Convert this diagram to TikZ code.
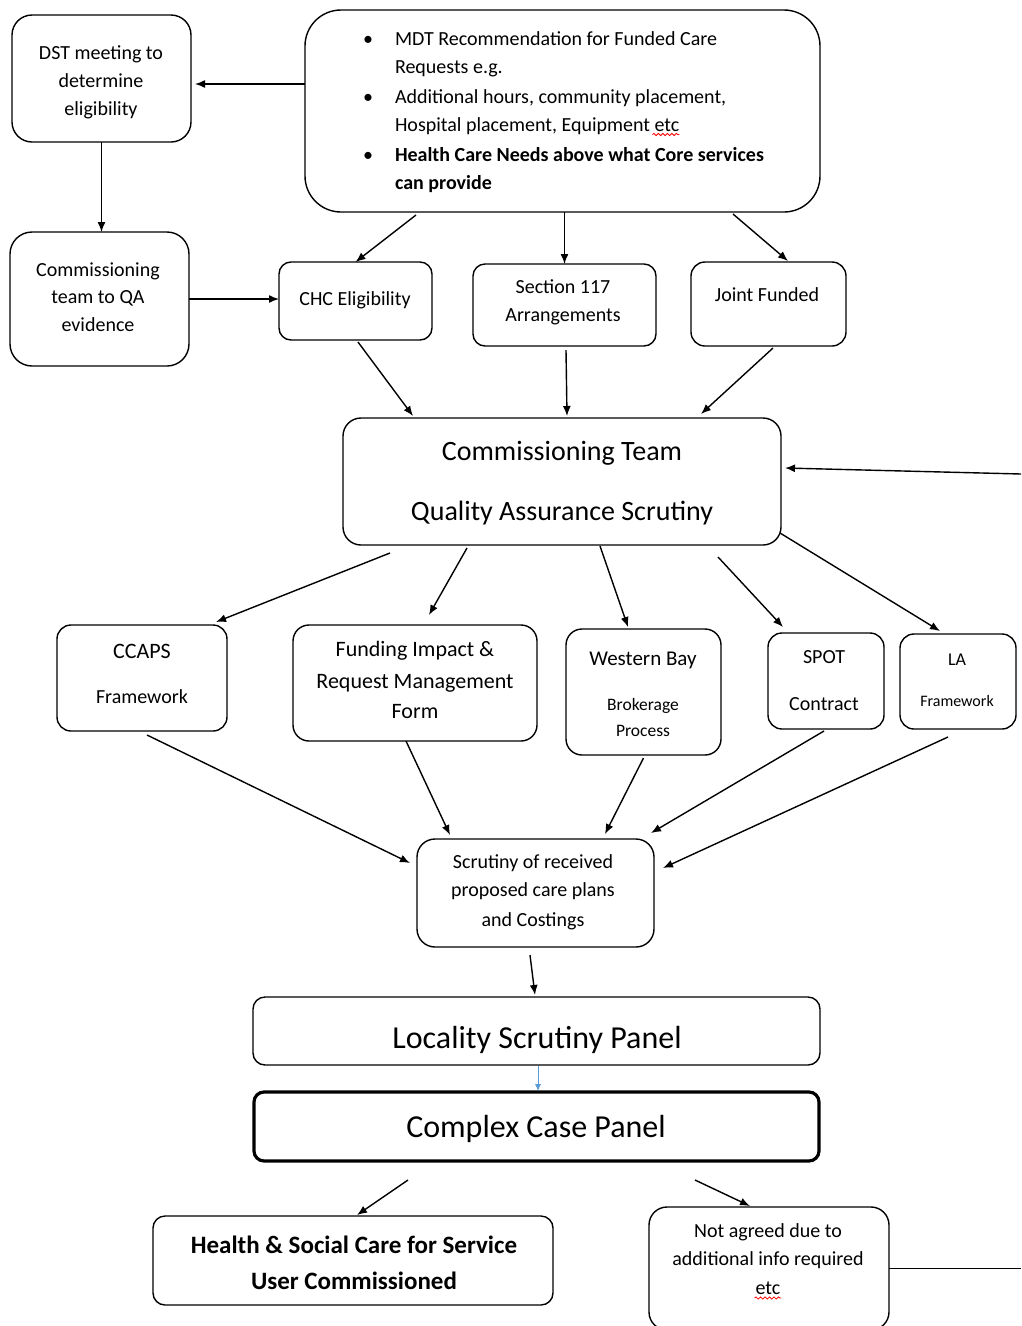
\documentclass[tikz,border=0pt]{standalone}
\usepackage{fontspec}
\setmainfont{Carlito}
\usetikzlibrary{arrows.meta,calc,decorations.pathmorphing}
\newcommand\fsz[1]{\fontsize{#1}{#1}\selectfont}
\definecolor{wordblue}{RGB}{91,155,213}
\tikzset{
  box/.style={draw=black, line width=1.4pt, inner sep=0pt, outer sep=0pt, fill=white},
  lbl/.style={inner sep=0pt, outer sep=0pt, anchor=base, text=black, font=\fsz{20}},
  lblw/.style={lbl, anchor=base west},
  arr/.style={draw=black, line width=1.4pt, -{Latex[length=10pt,width=8pt]}},
  plain/.style={draw=black, line width=1.4pt},
  squig/.style={draw=red, line width=0.8pt, decorate, decoration={snake, amplitude=1.1pt, segment length=4.5pt}}
}
\begin{document}
\begin{tikzpicture}[x=1pt, y=-1pt]
\useasboundingbox[fill=white] (0,0) rectangle (1021,1326);

% ---------- boxes ----------
\node[box, rounded corners=20pt, minimum width=179pt, minimum height=127pt] (dst) at (101.5,78.5) {};
\node[box, rounded corners=36pt, minimum width=515pt, minimum height=202pt] (mdt) at (562.5,111) {};
\node[box, rounded corners=22pt, minimum width=179pt, minimum height=134pt] (cqa) at (99.5,299) {};
\node[box, rounded corners=12pt, minimum width=153pt, minimum height=78pt] (chc) at (355.5,301) {};
\node[box, rounded corners=12pt, minimum width=183pt, minimum height=82pt] (s117) at (564.5,305) {};
\node[box, rounded corners=14pt, minimum width=155pt, minimum height=84pt] (joint) at (768.5,304) {};
\node[box, rounded corners=18pt, minimum width=438pt, minimum height=127pt] (ct) at (562,481.5) {};
\node[box, rounded corners=14pt, minimum width=170pt, minimum height=106pt] (ccaps) at (142,678) {};
\node[box, rounded corners=16pt, minimum width=244pt, minimum height=116pt] (fund) at (415,683) {};
\node[box, rounded corners=16pt, minimum width=155pt, minimum height=126pt] (west) at (643.5,692) {};
\node[box, rounded corners=14pt, minimum width=116pt, minimum height=96pt] (spot) at (826,681) {};
\node[box, rounded corners=14pt, minimum width=116pt, minimum height=95pt] (la) at (958,681.5) {};
\node[box, rounded corners=18pt, minimum width=237pt, minimum height=108pt] (scr) at (535.5,893) {};
\node[box, rounded corners=12pt, minimum width=567pt, minimum height=68pt] (loc) at (536.5,1031) {};
\node[box, rounded corners=10pt, line width=3.2pt, minimum width=565pt, minimum height=69pt] (cx) at (536.5,1126.5) {};
\node[box, rounded corners=12pt, minimum width=400pt, minimum height=89pt] (hsc) at (353,1260.5) {};
\node[box, rounded corners=18pt, minimum width=240pt, minimum height=123pt] (na) at (769,1268.5) {};

% ---------- texts ----------
\node[lbl] (dst1) at (101,59.5) {DST meeting to};
\node[lbl] (dst2) at (101,87.5) {determine};
\node[lbl] (dst3) at (101,115.5) {eligibility};

\node[lbl] (b1) at (368,45.5) {\textbullet};
\node[lblw] (mdt1) at (395,45.5) {MDT Recommendation for Funded Care};
\node[lblw] (mdt2) at (395,73.5) {Requests e.g.};
\node[lbl] (b2) at (368,103.5) {\textbullet};
\node[lblw] (mdt3) at (395,103.5) {Additional hours, community placement,};
\node[lblw] (mdt4) at (395,131.5) {Hospital placement, Equipment etc};
\node[lbl] (b3) at (368,161.5) {\textbullet};
\node[lblw, font=\fsz{20}\bfseries] (mdt5) at (395,161.5) {Health Care Needs above what Core services};
\node[lblw, font=\fsz{20}\bfseries] (mdt6) at (395,189.5) {can provide};
\draw[squig] ($(mdt4.base east)+(-27,3)$) -- ($(mdt4.base east)+(0,3)$);

\node[lbl] (cqa1) at (98,276.5) {Commissioning};
\node[lbl] (cqa2) at (98,303.5) {team to QA};
\node[lbl] (cqa3) at (98,331.5) {evidence};

\node[lbl] (chc1) at (355,305.5) {CHC Eligibility};
\node[lbl] (s1) at (563,293.5) {Section 117};
\node[lbl] (s2) at (563,321.5) {Arrangements};
\node[lbl] (j1) at (767,301.5) {Joint Funded};

\node[lbl, font=\fsz{28}] (ct1) at (562,460) {Commissioning Team};
\node[lbl, font=\fsz{28}] (ct2) at (562,520) {Quality Assurance Scrutiny};

\node[lbl, font=\fsz{22}] (cc1) at (142,658) {CCAPS};
\node[lbl] (cc2) at (142,703.5) {Framework};

\node[lbl, font=\fsz{22}] (f1) at (415,656) {Funding Impact \&};
\node[lbl, font=\fsz{22}] (f2) at (415,688) {Request Management};
\node[lbl, font=\fsz{22}] (f3) at (415,718) {Form};

\node[lbl, font=\fsz{21}] (w1) at (643,665) {Western Bay};
\node[lbl, font=\fsz{17.5}] (w2) at (643,710.5) {Brokerage};
\node[lbl, font=\fsz{17.5}] (w3) at (643,736.5) {Process};

\node[lbl] (sp1) at (824,663.5) {SPOT};
\node[lbl] (sp2) at (824,710.5) {Contract};

\node[lbl, font=\fsz{18}] (la1) at (957,665) {LA};
\node[lbl, font=\fsz{16}] (la2) at (957,706) {Framework};

\node[lbl] (sc1) at (533,868.5) {Scrutiny of received};
\node[lbl] (sc2) at (533,896.5) {proposed care plans};
\node[lbl] (sc3) at (533,926.5) {and Costings};

\node[lbl, font=\fsz{32}] (loc1) at (537,1048) {Locality Scrutiny Panel};
\node[lbl, font=\fsz{32}] (cx1) at (536,1137) {Complex Case Panel};

\node[lbl, font=\fsz{25}\bfseries] (h1) at (354,1253) {Health \& Social Care for Service};
\node[lbl, font=\fsz{25}\bfseries] (h2) at (354,1289) {User Commissioned};

\node[lbl] (n1) at (768,1237) {Not agreed due to};
\node[lbl] (n2) at (768,1265) {additional info required};
\node[lbl] (n3) at (768,1294) {etc};
\draw[squig] ($(n3.base west)+(-1,4)$) -- ($(n3.base east)+(1,4)$);

% ---------- free ends ----------
\coordinate (fbin) at (1021,474);
\coordinate (fbout) at (1021,1268.5);

% ---------- connectors ----------
\draw[arr] ($(mdt.west)+(0,-27)$) -- ($(dst.east)+(4,5.5)$);
\draw[arr] (dst.south) -- (dst.south |- cqa.north);
\draw[arr] (cqa.east) -- (cqa.east -| chc.west);
\draw[arr] ($(mdt.south)+(-146.5,3)$) -- (chc.north);
\draw[arr] (mdt.south -| s117.north) -- (s117.north);
\draw[arr] ($(mdt.south)+(170.5,2)$) -- ($(joint.north)+(19.5,-1)$);

\draw[arr] ($(chc.south)+(2.5,2)$) -- ($(ct.north)+(-149,-2)$);
\draw[arr] ($(s117.south)+(1.5,4)$) -- ($(ct.north)+(5,-2)$);
\draw[arr] ($(joint.south)+(4.5,2)$) -- ($(ct.north)+(139,-4)$);
\draw[arr] (fbin) -- ($(ct.east)+(4,-13.5)$);

\draw[arr] ($(ct.south)+(-172,8)$) -- ($(ccaps.north)+(74,-3)$);
\draw[arr] ($(ct.south)+(-95,3)$) -- ($(fund.north)+(14,-10)$);
\draw[arr] ($(ct.south)+(38,1)$) -- ($(west.north)+(-15.5,-2)$);
\draw[arr] ($(ct.south)+(156,12)$) -- ($(spot.north)+(-43,-6)$);
\draw[arr] ($(ct.east)+(-1,51.5)$) -- ($(la.north)+(-18,-3)$);

\draw[arr] ($(ccaps.south)+(5,4)$) -- ($(scr.west)+(-7,-30)$);
\draw[arr] ($(fund.south)+(-9,0)$) -- ($(scr.north)+(-85.5,-4)$);
\draw[arr] ($(west.south)+(0,3)$) -- ($(scr.north)+(69.5,-5)$);
\draw[arr] ($(spot.south)+(-2,2)$) -- ($(scr.north)+(115.5,-6)$);
\draw[arr] ($(la.south)+(-10,8)$) -- ($(scr.east)+(9,-25)$);

\draw[arr] ($(scr.south)+(-5.5,8)$) -- ($(loc.north)+(-1.5,-2)$);
\draw[draw=wordblue, line width=0.9pt, -{Latex[length=7pt,width=6pt]}] ($(loc.south)+(1.5,1)$) -- ($(cx.north)+(1.5,-1)$);

\draw[arr] ($(cx.south)+(-128.5,19)$) -- ($(hsc.north)+(4,-1)$);
\draw[arr] ($(cx.south)+(158.5,19)$) -- ($(na.north)+(-19,-1)$);
\draw[plain] (na.east) -- (fbout);
\end{tikzpicture}
\end{document}
